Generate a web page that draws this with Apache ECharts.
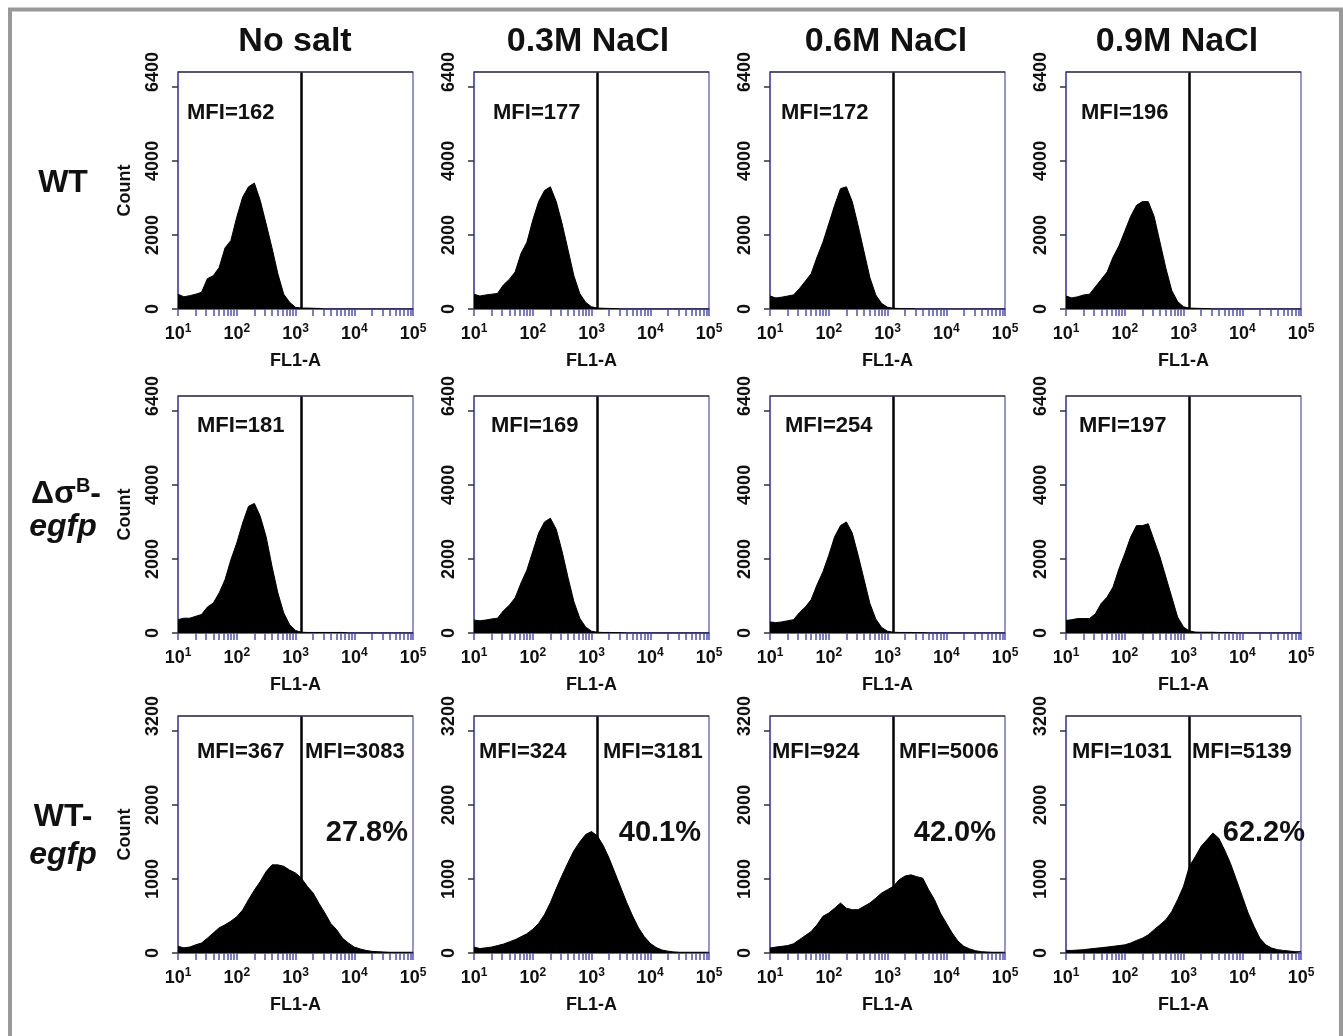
<!DOCTYPE html>
<html>
<head>
<meta charset="utf-8">
<script src="https://cdn.jsdelivr.net/npm/echarts@6/dist/echarts.min.js"></script>
<style>
  html, body { margin: 0; padding: 0; background: #fff; }
  #chart { width: 1343px; height: 1036px; }
</style>
</head>
<body>
<div id="chart"></div>
<script>
// column / row headers
const conditions = ['No salt', '0.3M NaCl', '0.6M NaCl', '0.9M NaCl']

// histogram bins, log10(FL1-A) channel centres
const logBins = [1.0, 1.1, 1.2, 1.3, 1.4, 1.5, 1.6, 1.7, 1.8, 1.9,
                 2.0, 2.1, 2.2, 2.3, 2.4, 2.5, 2.6, 2.7, 2.8, 2.9,
                 3.0, 3.1, 3.2, 3.3, 3.4, 3.5, 3.6, 3.7, 3.8, 3.9,
                 4.0, 4.1, 4.2, 4.3, 4.4, 4.5, 4.6, 4.7, 4.8, 4.9, 5.0]

// WT
const wtNoSalt = [400, 330, 360, 400, 450, 820, 900, 1120, 1650, 1850, 2480, 3020, 3300, 3400, 2930, 2300, 1650, 950, 400, 180, 45, 25, 25, 20, 15, 0, 0, 0, 0, 0, 0, 0, 0, 0, 0, 0, 0, 0, 0, 0, 0]
const wt03 = [400, 350, 380, 400, 420, 650, 800, 1000, 1500, 1800, 2400, 2900, 3200, 3300, 2900, 2300, 1600, 900, 420, 180, 60, 25, 20, 15, 10, 0, 0, 0, 0, 0, 0, 0, 0, 0, 0, 0, 0, 0, 0, 0, 0]
const wt06 = [350, 300, 320, 350, 380, 550, 750, 950, 1400, 1800, 2300, 2800, 3250, 3300, 2900, 2250, 1550, 850, 380, 150, 50, 20, 15, 10, 10, 0, 0, 0, 0, 0, 0, 0, 0, 0, 0, 0, 0, 0, 0, 0, 0]
const wt09 = [350, 300, 330, 380, 400, 600, 800, 1000, 1400, 1700, 2100, 2500, 2800, 2900, 2900, 2500, 1800, 1100, 500, 200, 60, 25, 20, 15, 10, 0, 0, 0, 0, 0, 0, 0, 0, 0, 0, 0, 0, 0, 0, 0, 0]
// delta sigmaB - egfp
const sigNoSalt = [360, 400, 400, 450, 500, 700, 810, 1080, 1440, 1980, 2430, 2970, 3420, 3500, 3150, 2600, 1800, 1080, 540, 225, 70, 20, 15, 15, 15, 15, 15, 15, 15, 0, 0, 0, 0, 0, 0, 0, 0, 0, 0, 0, 0]
const sig03 = [350, 330, 350, 380, 400, 600, 750, 950, 1350, 1700, 2200, 2700, 3000, 3100, 2800, 2200, 1500, 850, 400, 160, 50, 20, 15, 15, 10, 10, 0, 0, 0, 0, 0, 0, 0, 0, 0, 0, 0, 0, 0, 0, 0]
const sig06 = [300, 280, 300, 330, 360, 550, 700, 900, 1300, 1650, 2100, 2600, 2900, 3000, 2700, 2100, 1450, 800, 380, 150, 50, 20, 15, 15, 15, 10, 10, 0, 0, 0, 0, 0, 0, 0, 0, 0, 0, 0, 0, 0, 0]
const sig09 = [340, 360, 390, 390, 390, 520, 800, 970, 1240, 1730, 2140, 2590, 2900, 2900, 2950, 2500, 2050, 1510, 970, 430, 160, 55, 25, 20, 20, 20, 15, 15, 15, 0, 0, 0, 0, 0, 0, 0, 0, 0, 0, 0, 0]
// WT - egfp
const egfpNoSalt = [90, 70, 80, 110, 135, 200, 270, 340, 380, 430, 490, 580, 720, 850, 965, 1100, 1190, 1190, 1170, 1120, 1080, 1010, 900, 810, 670, 540, 400, 315, 200, 135, 80, 55, 35, 22, 18, 14, 10, 10, 10, 10, 10]
const egfp03 = [80, 60, 70, 80, 100, 120, 150, 180, 220, 260, 320, 400, 520, 680, 870, 1050, 1220, 1380, 1500, 1600, 1640, 1580, 1450, 1280, 1080, 880, 680, 500, 340, 220, 130, 75, 40, 25, 15, 10, 10, 10, 10, 10, 10]
const egfp06 = [67, 80, 90, 100, 125, 180, 235, 290, 380, 495, 540, 605, 675, 605, 585, 585, 630, 675, 740, 810, 855, 900, 990, 1040, 1055, 1030, 1010, 855, 720, 540, 405, 270, 160, 90, 55, 30, 18, 13, 10, 10, 10]
const egfp09 = [35, 35, 40, 45, 55, 63, 72, 80, 90, 100, 110, 135, 170, 200, 245, 315, 380, 450, 560, 720, 900, 1170, 1300, 1440, 1530, 1620, 1550, 1390, 1210, 990, 765, 540, 360, 200, 110, 67, 45, 35, 27, 18, 18]

const histograms = [
    [wtNoSalt, wt03, wt06, wt09],
    [sigNoSalt, sig03, sig06, sig09],
    [egfpNoSalt, egfp03, egfp06, egfp09]
]

// gate position (log10 FL1-A)
const gate = 3.09

// MFI / percentage annotations
const mfiLow = [[162, 177, 172, 196], [181, 169, 254, 197], [367, 324, 924, 1031]]
const mfiHigh = [3083, 3181, 5006, 5139]
const pctHigh = ['27.8%', '40.1%', '42.0%', '62.2%']

// axis ticks / labels
const xLabelValues = [1, 2, 3, 4, 5]
const yMax = [6400, 6400, 3200]
const yLabelValues = [[0, 2000, 4000, 6400], [0, 2000, 4000, 6400], [0, 1000, 2000, 3200]]
const yTickValues = [[0, 2000, 4000, 6000], [0, 2000, 4000, 6000], [0, 1000, 2000, 3000]]

// layout
const colLeft = [178, 474, 770, 1066]
const rowTop = [72, 396, 716]
const plotW = 235
const plotH = 237
const FONT = '"Liberation Sans", Arial, Helvetica, sans-serif'
const BLUE = '#5050b6'

// minor ticks of the log axis, 1..9 in each decade
const xTicks = []
for (let d = 1; d < 5; d++) {
    for (let k = 1; k < 10; k++) xTicks.push(d + Math.log10(k))
}
xTicks.push(5)

const chart = echarts.init(document.getElementById('chart'))

const grids = [], xAxes = [], yAxes = [], series = [], graphics = []

for (let r = 0; r < 3; r++) {
    for (let c = 0; c < 4; c++) {
        const i = r * 4 + c
        grids.push({ left: colLeft[c], top: rowTop[r], width: plotW, height: plotH, show: true, borderColor: BLUE, borderWidth: 1.2, backgroundColor: '#fff' })
        xAxes.push({
            type: 'value', gridIndex: i, min: 1, max: 5,
            name: 'FL1-A', nameLocation: 'middle', nameGap: 43,
            nameTextStyle: { fontFamily: FONT, fontWeight: 'bold', fontSize: 18, color: '#111' },
            axisLine: { show: true, lineStyle: { color: BLUE, width: 1.5 } },
            axisTick: { show: true, length: 7, customValues: xTicks, lineStyle: { color: BLUE, width: 1.5 } },
            axisLabel: {
                margin: 14, customValues: xLabelValues,
                formatter: v => '{b|10}{s|' + v + '}',
                rich: {
                    b: { fontFamily: FONT, fontWeight: 'bold', fontSize: 18, color: '#111', lineHeight: 22 },
                    s: { fontFamily: FONT, fontWeight: 'bold', fontSize: 12, color: '#111', verticalAlign: 'top', lineHeight: 12 }
                }
            },
            splitLine: { show: false }
        })
        yAxes.push({
            type: 'value', gridIndex: i, min: 0, max: yMax[r],
            name: c === 0 ? 'Count' : '', nameLocation: 'middle', nameGap: 44,
            nameTextStyle: { fontFamily: FONT, fontWeight: 'bold', fontSize: 18, color: '#111' },
            axisLine: { show: true, lineStyle: { color: BLUE, width: 1.5 } },
            axisTick: { show: true, length: 6, customValues: yTickValues[r], lineStyle: { color: '#333', width: 1.5 } },
            axisLabel: {
                rotate: 90, margin: 16, customValues: yLabelValues[r],
                formatter: v => String(v),
                fontFamily: FONT, fontWeight: 'bold', fontSize: 18, color: '#111'
            },
            splitLine: { show: false }
        })
        series.push({
            type: 'line', xAxisIndex: i, yAxisIndex: i,
            data: logBins.map((b, k) => [b, histograms[r][c][k]]),
            showSymbol: false, silent: true,
            lineStyle: { color: '#000', width: 1 },
            areaStyle: { color: '#000', opacity: 1 },
            markLine: {
                silent: true, symbol: ['none', 'none'], label: { show: false },
                data: [
                    { xAxis: gate, lineStyle: { color: '#000', width: 2.5, type: 'solid' } },
                    { yAxis: yMax[r], lineStyle: { color: '#3a3a48', width: 1.5, type: 'solid' } }
                ]
            }
        })
    }
}

// MFI text positions (offset from the plot's top-left corner)
const mfiDx = [[9, 19, 11, 15], [19, 17, 15, 13], [19, 5, 2, 6]]
const mfiDy = [41, 30, 36]
const mfiHighDx = [127, 129, 129, 126]
const pctRight = [230, 227, 226, 239]

const txt = (x, y, text, size, extra) => ({
    type: 'text', x: x, y: y, silent: true,
    style: Object.assign({ text: text, fontFamily: FONT, fontWeight: 'bold', fontSize: size, fill: '#111', textVerticalAlign: 'middle' }, extra || {})
})

for (let r = 0; r < 3; r++) {
    for (let c = 0; c < 4; c++) {
        graphics.push(txt(colLeft[c] + mfiDx[r][c], rowTop[r] + mfiDy[r], 'MFI=' + mfiLow[r][c], 22))
        if (r === 2) {
            graphics.push(txt(colLeft[c] + mfiHighDx[c], rowTop[r] + mfiDy[r], 'MFI=' + mfiHigh[c], 22))
            graphics.push(txt(colLeft[c] + pctRight[c], rowTop[r] + 117, pctHigh[c], 29, { textAlign: 'right' }))
        }
    }
}

// column titles
const titleX = [295, 588, 886, 1177]
conditions.forEach((t, c) => graphics.push(txt(titleX[c], 42, t, 34, { textAlign: 'center' })))

// row labels
graphics.push(txt(63, 183, 'WT', 32, { textAlign: 'center' }))
graphics.push({
    type: 'text', x: 66, y: 494, silent: true,
    style: {
        text: '{a|Δσ}{s|B}{a|-}', textAlign: 'center', textVerticalAlign: 'middle',
        rich: {
            a: { fontFamily: FONT, fontWeight: 'bold', fontSize: 32, fill: '#111', lineHeight: 36 },
            s: { fontFamily: FONT, fontWeight: 'bold', fontSize: 20, fill: '#111', verticalAlign: 'top', lineHeight: 20 }
        }
    }
})
graphics.push(txt(63, 527, 'egfp', 32, { textAlign: 'center', fontStyle: 'italic' }))
graphics.push(txt(63, 817, 'WT-', 32, { textAlign: 'center' }))
graphics.push(txt(63, 855, 'egfp', 32, { textAlign: 'center', fontStyle: 'italic' }))

// outer grey frame
graphics.push({ type: 'rect', silent: true, shape: { x: 10, y: 9.5, width: 1331, height: 1040 }, style: { fill: 'none', stroke: '#999', lineWidth: 4 } })

chart.setOption({
    animation: false,
    backgroundColor: '#fff',
    grid: grids,
    xAxis: xAxes,
    yAxis: yAxes,
    series: series,
    graphic: graphics
})
</script>
</body>
</html>
